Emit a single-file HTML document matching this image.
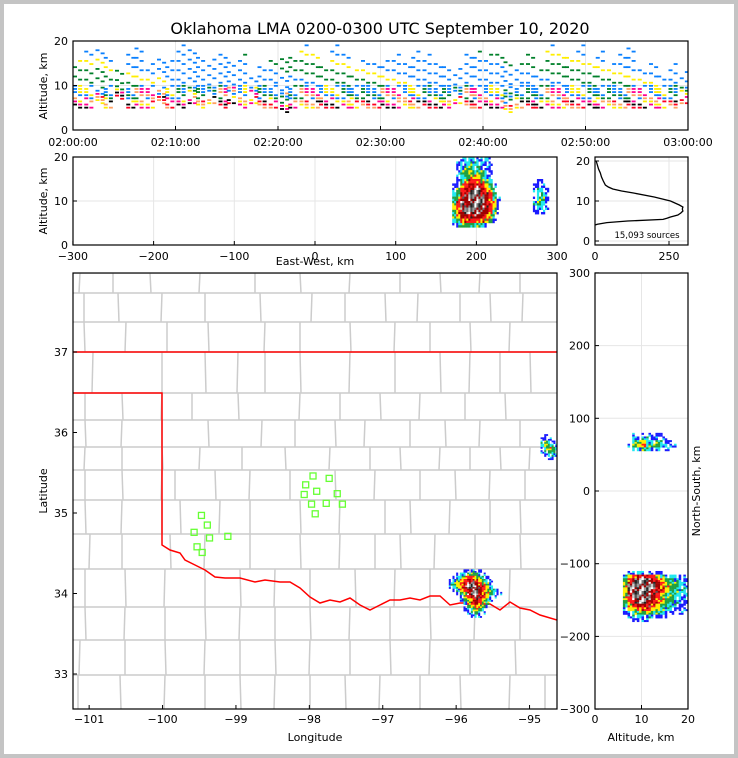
<!DOCTYPE html>
<html><head><meta charset="utf-8">
<style>
html,body{margin:0;padding:0;background:#c4c4c4;}
#wrap{position:absolute;left:4px;top:4px;width:730px;height:750px;background:#fff;}
svg{position:absolute;left:0;top:0;font-family:"DejaVu Sans","Liberation Sans",sans-serif;}
</style></head>
<body>
<div id="wrap"></div>
<svg id="fig" width="738" height="758">
<text x="380" y="34" font-size="16" text-anchor="middle">Oklahoma LMA 0200-0300 UTC September 10, 2020</text>
</svg>
<script>
// ---------- data ----------
const timeCols=[[0,5,16],[1,5,18],[2,6,18],[3,5,17],[4,7,14],[5,5,17],[6,5,19],[7,5,15],[8,6,17],[9,5,16],[10,5,19],[11,6,19],[12,5,17],[13,6,16],[14,5,18],[15,6,16],[16,5,17],[17,6,12],[18,5,15],[19,5,16],[20,4,16],[21,5,17],[22,5,19],[23,5,18],[24,5,15],[25,5,19],[26,5,17],[27,5,14],[28,5,16],[29,5,15],[30,5,16],[31,5,17],[32,5,15],[33,5,18],[34,5,17],[35,5,16],[36,5,15],[37,6,14],[38,5,17],[39,5,18],[40,5,17],[41,5,18],[42,4,16],[43,5,15],[44,5,17],[45,5,14],[46,5,19],[47,5,18],[48,5,17],[49,5,19],[50,5,16],[51,5,18],[52,5,15],[53,5,17],[54,5,19],[55,5,14],[56,5,15],[57,5,12],[58,5,15],[59,6,13]];
const timeTicks=["02:00:00","02:10:00","02:20:00","02:30:00","02:40:00","02:50:00","03:00:00"];
const ewGridX0=170, ewGridAltTop=20;
const ewGrid=["001211111000","001222112100","012232221100","012332321100","013343332100","012344432100","013455543200","124566654310","135667765420","236677766530","346677776531","357677776541","457777776541","356777766531","346666665420","235555554310","123333321000"];
const ew2X0=270, ew2AltTop=14;
const ew2Grid=["0110","1210","1221","0231","1331","2321","1221","1210"];
const histAlt=[20,19,18,17,16,15,14,13.5,13,12.5,12,11,10,9,8.5,8,7.5,7,6.5,6,5.7,5.4,5,4.6,4.2,4];
const histCnt=[4,8,12,18,22,28,35,45,60,90,130,200,255,285,297,295,297,290,280,255,243,230,110,40,8,0];
const mapGridLon0=-96.15, mapGridLat0=34.3;
const mapGrid=["00000112110000000","00012233321000000","00123455432100000","01234566543210000","02345677654310000","01245677765421000","00124567765432100","00013467765432110","00002456765421000","00001345654310000","00000245654300000","00000134543100000","00000123432000000","00000012321000000","00000001210000000"];
const map2Lon0=-94.85, map2Lat0=35.98;
const map2Grid=["01000","12100","23210","24321","13432","12331","01221","00110"];
const nsGridNS0=-110;
const nsGrid=["00011221111000000","00245665543222111","00357777654332211","00467777765433221","00477777765433221","00477777665433221","00467777654332221","00457777654332211","00356776654332211","00345666543322111","00244555443221111","00123334332111100","00012222211100000","00001111000000000"];
const ns2NS0=80;
const ns2Grid=["00001011111000000","00002122121100000","00003342232110000","00013453332211000","00002232121100000"];
const stationLon=[-97.95,-97.73,-98.05,-97.9,-98.07,-97.62,-97.97,-97.77,-97.55,-97.92,-99.47,-99.39,-99.57,-99.36,-99.11,-99.53,-99.46];
const stationLat=[35.46,35.43,35.35,35.27,35.23,35.24,35.11,35.12,35.11,34.99,34.97,34.85,34.76,34.69,34.71,34.58,34.51];
const lonTicks=[-101,-100,-99,-98,-97,-96,-95];
const latTicks=[33,34,35,36,37];
const ewTicks=[-300,-200,-100,0,100,200,300];
const nsTicks=[-300,-200,-100,0,100,200,300];

// ---------- scales ----------
const tX=m=>73+m*615/60, tY=a=>130-a*4.45;
const ewX=k=>315+k*0.807, ewY=a=>245-a*4.4;
const hX=c=>595+c*0.296, hY=a=>241-a*4;
const mX=l=>73+(l+101.22)*73.4, mY=l=>352-(l-37)*80.5;
const nX=a=>595+a*4.65, nY=n=>491-n*0.727;

const svg=document.getElementById('fig');
const NS='http://www.w3.org/2000/svg';
function el(tag,attrs,parent){const e=document.createElementNS(NS,tag);for(const k in attrs)e.setAttribute(k,attrs[k]);(parent||svg).appendChild(e);return e;}
function txt(x,y,s,anchor,size,rot){const e=el('text',{x:x,y:y,'font-size':size||11,'text-anchor':anchor||'middle'});if(rot)e.setAttribute('transform','rotate('+rot+' '+x+' '+y+')');e.textContent=s;return e;}
const lvl=['none','#1a1aff','#20e8f0','#20a040','#ffee00','#ff1a1a','#a00000','#888888'];
const lvl7b=['#777777','#222222','#cccccc','#555555','#ffffff','#999999'];
function clip(id,x,y,w,h){const c=el('clipPath',{id:id});el('rect',{x:x,y:y,width:w,height:h},c);}
function frame(name,x,y,w,h){const r=el('rect',{x:x,y:y,width:w,height:h,fill:'none',stroke:'#000','stroke-width':1.2});}
const jit=[0,0,1,0,-1,0,0,0,-1];
function drawGrid(g,grid,fx,fy,name){
  grid.forEach((row,r)=>{for(let c=0;c<row.length;c++){const v=+row[c];if(!v)continue;
    const q=fx(c,r);
    for(let s=0;s<4;s++){
      let sv=v+jit[(r*3+c*5+s*7)%9];
      if(v<=2 && s%2===1 && (r+c)%2===0) continue;
      if(sv<=0) continue; if(sv>7) sv=7;
      const fill=sv===7?lvl7b[(r*2+c*3+s)%6]:lvl[sv];
      const w=q[2]/2,h=q[3]/2;
      const e=el('rect',{x:q[0]+(s%2)*w,y:q[1]+Math.floor(s/2)*h,width:w+0.2,height:h+0.2,fill:fill},g);
      
      
    }}});
}

// ---------- Panel 1 ----------
clip('c1',73,41,615,89);
const g1=el('g',{'clip-path':'url(#c1)'});


[0,10,20].forEach(a=>el('line',{x1:73,x2:688,y1:tY(a),y2:tY(a),stroke:'#e6e6e6'},g1));
timeTicks.forEach((s,i)=>el('line',{x1:tX(i*10),x2:tX(i*10),y1:41,y2:130,stroke:'#e6e6e6'},g1));
const tcol=['#0a80ff','#00802a','#ffee00','#ffa060','#ff0020','#ff0090','#000000'];
timeCols.forEach((c,i)=>{
  for(let sub=0;sub<2;sub++){
    const x=tX(c[0]+sub*0.5)+(i%3);
    for(let a=c[1];a<=c[2];a+=0.7){
      const k=Math.floor((a-c[1])/0.7);
      if(a>10 && (k+i+sub)%3!==0) continue;
      if(a<=10 && (k+i*2+sub)%4===0) continue;
      let ci;
      if(a<c[1]+1.6) ci=[4,6,5,2,3][(k+i+sub)%5];
      else if(a<c[1]+4.5) ci=[0,1,0,3,5,0,2,1][(k+i+sub)%8];
      else ci=[0,1,0,0,1,0,0,2][(k+i+sub)%8];
      const d=el('rect',{x:x,y:tY(a)-1,width:4,height:1.8,fill:tcol[ci]},g1);
      
      
    }
  }
});
frame('time-height-frame',73,41,615,89);
timeTicks.forEach((s,i)=>{el('line',{x1:tX(i*10),x2:tX(i*10),y1:130,y2:126,stroke:'#000'});const t=txt(tX(i*10),146,s);});
[0,10,20].forEach(a=>{el('line',{x1:73,x2:77,y1:tY(a),y2:tY(a),stroke:'#000'});txt(68,tY(a)+4,String(a),'end');});
let t1=txt(47,86,'Altitude, km','middle',11,-90);

// ---------- Panel 2 ----------
clip('c2',73,157,484,88);
const g2=el('g',{'clip-path':'url(#c2)'});


[0,10,20].forEach(a=>el('line',{x1:73,x2:557,y1:ewY(a),y2:ewY(a),stroke:'#e6e6e6'},g2));
ewTicks.forEach(k=>el('line',{x1:ewX(k),x2:ewX(k),y1:157,y2:245,stroke:'#e6e6e6'},g2));
drawGrid(g2,ewGrid,(c,r)=>{const x0=ewX(ewGridX0+c*5),y0=ewY(ewGridAltTop-r+1);return [x0,y0,ewX(ewGridX0+c*5+5)-x0,ewY(ewGridAltTop-r)-y0];},'ew-density-cell');
drawGrid(g2,ew2Grid,(c,r)=>{const x0=ewX(ew2X0+c*5),y0=ewY(ew2AltTop-r+1);return [x0,y0,ewX(ew2X0+c*5+5)-x0,ewY(ew2AltTop-r)-y0];},'ew-density-cell');
frame('east-west-frame',73,157,484,88);
ewTicks.forEach(k=>{el('line',{x1:ewX(k),x2:ewX(k),y1:245,y2:241,stroke:'#000'});const s=k<0?'\u2212'+(-k):String(k);txt(ewX(k),260,s);});
[0,10,20].forEach(a=>{el('line',{x1:73,x2:77,y1:ewY(a),y2:ewY(a),stroke:'#000'});txt(68,ewY(a)+4,String(a),'end');});
let t2=txt(315,265,'East-West, km');
let t3=txt(47,201,'Altitude, km','middle',11,-90);

// ---------- Panel 3 ----------
[0,10,20].forEach(a=>el('line',{x1:595,x2:688,y1:hY(a),y2:hY(a),stroke:'#e6e6e6'}));
[0,250].forEach(c=>el('line',{x1:hX(c),x2:hX(c),y1:157,y2:245,stroke:'#e6e6e6'}));
const hp=el('polyline',{points:histAlt.map((a,i)=>hX(histCnt[i])+','+hY(a)).join(' '),fill:'none',stroke:'#000','stroke-width':1.3});


frame('histogram-frame',595,157,93,88);
[0,250].forEach(c=>{el('line',{x1:hX(c),x2:hX(c),y1:245,y2:241,stroke:'#000'});txt(hX(c),260,String(c));});
[0,10,20].forEach(a=>{el('line',{x1:595,x2:599,y1:hY(a),y2:hY(a),stroke:'#000'});txt(590,hY(a)+4,String(a),'end');});
let t4=txt(647,238,'15,093 sources','middle',8.5);

// ---------- Map ----------
clip('c4',73,273,484,436);
const g4=el('g',{'clip-path':'url(#c4)'});


const bands=[[273,293,[80,113,150,200,255,300,350,400,440,480,520]],[293,322,[84,118,162,205,260,312,345,385,418,460,490,523]],[322,352,[84,126,167,208,265,300,350,395,430,470,510]],[352,393,[93,162,205,238,265,300,350,395,440,470,500,530]],[393,420,[85,122,162,192,238,300,340,380,420,465,505]],[420,447,[85,122,162,208,262,295,335,365,410,445,480,520]],[447,470,[85,122,162,200,242,285,330,370,400,440,470,500,530]],[470,500,[85,122,162,175,215,250,290,335,375,420,455,490,525]],[500,534,[85,122,162,180,220,250,300,340,385,410,450,490,520]],[534,569,[90,122,170,205,250,300,340,375,400,435,475,520]],[569,607,[85,125,165,205,240,275,310,355,395,430,470,510]],[607,640,[85,125,165,205,240,275,310,350,390,430,475,520]],[640,675,[80,125,165,205,240,275,310,350,390,430,470,515]],[675,709,[78,120,165,205,240,275,310,345,380,420,460,510,545]]];
bands.forEach((b,bi)=>{
  el('line',{x1:73,x2:557,y1:b[0],y2:b[0],stroke:'#cccccc','stroke-width':1.5},g4);
  b[2].forEach((x,i)=>el('line',{x1:x,x2:x+((i+bi)%3-1),y1:b[0],y2:b[1],stroke:'#cccccc','stroke-width':1.5},g4));
});
const river=[[162,545],[170,550],[180,553],[185,560],[195,565],[205,570],[215,577],[225,578],[240,578],[255,582],[265,580],[280,582],[290,582],[300,588],[310,597],[320,603],[330,600],[340,602],[350,598],[360,605],[370,610],[380,605],[390,600],[400,600],[410,598],[420,600],[430,596],[440,596],[450,605],[460,603],[470,603],[480,604],[490,604],[500,610],[510,602],[520,608],[530,610],[540,615],[557,620]];
const okb=el('polyline',{points:'73,352 557,352',fill:'none',stroke:'#ff0000','stroke-width':1.5},g4);

const okb2=el('polyline',{points:'73,393 162,393 162,545 '+river.map(p=>p.join(',')).join(' '),fill:'none',stroke:'#ff0000','stroke-width':1.5},g4);

drawGrid(g4,mapGrid,(c,r)=>{const x0=mX(mapGridLon0+c*0.05),y0=mY(mapGridLat0-r*0.04);return [x0,y0,mX(mapGridLon0+c*0.05+0.05)-x0,mY(mapGridLat0-r*0.04-0.04)-y0];},'map-density-cell');
drawGrid(g4,map2Grid,(c,r)=>{const x0=mX(map2Lon0+c*0.05),y0=mY(map2Lat0-r*0.04);return [x0,y0,mX(map2Lon0+c*0.05+0.05)-x0,mY(map2Lat0-r*0.04-0.04)-y0];},'map-density-cell');
stationLon.forEach((l,i)=>{const s=el('rect',{x:mX(l)-3,y:mY(stationLat[i])-3,width:6,height:6,fill:'none',stroke:'#66ff33','stroke-width':1.3},g4);});
frame('map-frame',73,273,484,436);
lonTicks.forEach(l=>{el('line',{x1:mX(l),x2:mX(l),y1:709,y2:705,stroke:'#000'});txt(mX(l),723,'\u2212'+(-l));});
latTicks.forEach(l=>{el('line',{x1:73,x2:77,y1:mY(l),y2:mY(l),stroke:'#000'});txt(68,mY(l)+4,String(l),'end');});
let t5=txt(315,741,'Longitude');
let t6=txt(47,491,'Latitude','middle',11,-90);

// ---------- NS panel ----------
clip('c5',595,273,93,436);
const g5=el('g',{'clip-path':'url(#c5)'});


nsTicks.forEach(n=>el('line',{x1:595,x2:688,y1:nY(n),y2:nY(n),stroke:'#e6e6e6'},g5));
[0,10,20].forEach(a=>el('line',{x1:nX(a),x2:nX(a),y1:273,y2:709,stroke:'#e6e6e6'},g5));
drawGrid(g5,nsGrid,(c,r)=>{const x0=nX(4+c),y0=nY(nsGridNS0-r*5);return [x0,y0,nX(5+c)-x0,nY(nsGridNS0-r*5-5)-y0];},'ns-density-cell');
drawGrid(g5,ns2Grid,(c,r)=>{const x0=nX(4+c),y0=nY(ns2NS0-r*5);return [x0,y0,nX(5+c)-x0,nY(ns2NS0-r*5-5)-y0];},'ns-density-cell');
frame('north-south-frame',595,273,93,436);
nsTicks.forEach(n=>{el('line',{x1:595,x2:599,y1:nY(n),y2:nY(n),stroke:'#000'});txt(590,nY(n)+4,n<0?'\u2212'+(-n):String(n),'end');});
[0,10,20].forEach(a=>{el('line',{x1:nX(a),x2:nX(a),y1:709,y2:705,stroke:'#000'});txt(nX(a),723,String(a));});
let t7=txt(641,741,'Altitude, km');
let t8=txt(700,491,'North-South, km','middle',11,-90);
</script>
</body></html>
